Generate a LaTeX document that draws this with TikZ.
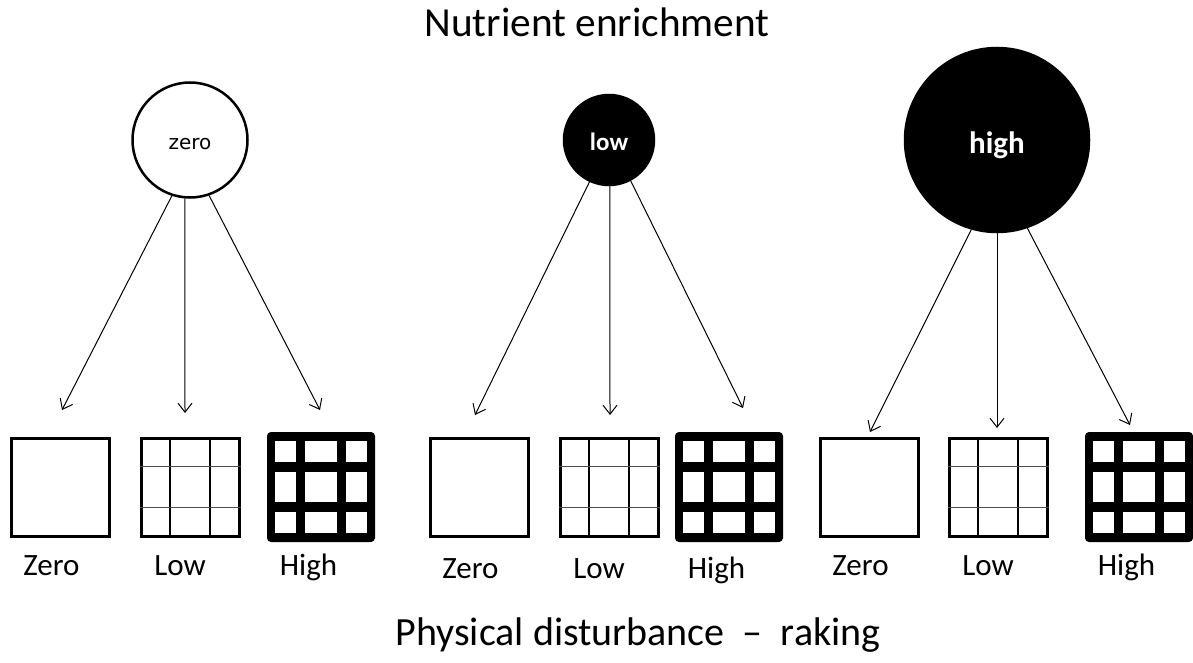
\documentclass[tikz,border=0pt]{standalone}
\usepackage{fontspec}
\setmainfont{Carlito}
\newfontfamily\dejavu{DejaVu Sans}
\usetikzlibrary{arrows.meta}

\begin{document}
\begin{tikzpicture}[x=1pt, y=-1pt,
    dose/.style={circle, draw, line width=2.5pt, inner sep=0pt},
    plot/.style={draw, line width=3pt, minimum size=98pt, inner sep=0pt},
    rake/.style={-{Straight Barb[length=9pt, width=14pt]}, line width=1pt},
    tag/.style={anchor=base, font=\fontsize{31}{31}\selectfont}]
  \useasboundingbox (0,0) rectangle (1193,663);

  \node[anchor=base, font=\fontsize{41.3}{41.3}\selectfont] (title) at (597,37) {Nutrient enrichment};
  \node[anchor=base, font=\fontsize{40}{40}\selectfont] (axis) at (638,645) {Physical disturbance \ -- \ raking};

  % nutrient levels
  \node[dose, fill=white, minimum size=115pt, font=\dejavu\fontsize{20}{20}\selectfont] (n1) at (190,140) {\raisebox{-4pt}[\height][\depth]{zero}};
  \node[dose, fill=black, minimum size=90pt, text=white, font=\bfseries\fontsize{25}{25}\selectfont] (n2) at (609,140) {\raisebox{-2pt}[\height][\depth]{low}};
  \node[dose, fill=black, minimum size=184pt, text=white, font=\bfseries\fontsize{31}{31}\selectfont] (n3) at (997,140) {\raisebox{-5pt}[\height][\depth]{high}};

  % raking plots
  \foreach \i/\xz/\xl/\xh/\yt in {1/60/190/321/575, 2/479/609/729/578, 3/869/998/1139/575} {
    \node[plot] (z\i) at (\xz,487) {};
    \node[plot] (l\i) at (\xl,487) {};
    \node[fill=black, rounded corners=4pt, minimum width=108pt, minimum height=110pt, inner sep=0pt] (h\i) at (\xh,487) {};
    \foreach \dx in {-20,20}
      \draw[line width=1.5pt] ([xshift=\dx pt]l\i.north) -- ([xshift=\dx pt]l\i.south);
    \foreach \dy in {-20,21}
      \draw[line width=1pt, black!70] ([yshift=\dy pt]l\i.west) -- ([yshift=\dy pt]l\i.east);
    \foreach \ca/\cb in {-46/-25,-16/16,25/46}
      \foreach \ra/\rb in {-46/-25,-15/15,25/46}
        \fill[white] ([shift={(\ca,\ra)}]h\i.center) rectangle ([shift={(\cb,\rb)}]h\i.center);
    \node[tag] (zt\i) at (\xz-8.5,\yt) {Zero};
    \node[tag] (lt\i) at (\xl-10,\yt) {Low};
    \node[tag] (ht\i) at (\xh-12.5,\yt) {High};
  }

  % arrow ends
  \coordinate (a1) at (62,410);
  \coordinate (b1) at (185,413);
  \coordinate (c1) at (320,410);
  \coordinate (a2) at (475,415);
  \coordinate (b2) at (610,415);
  \coordinate (c2) at (743,408);
  \coordinate (a3) at (870,432);
  \coordinate (b3) at (997,428);
  \coordinate (c3) at (1130,425);

  \draw[rake] (n1.252) -- (a1);
  \draw[rake] (n1.265) -- (b1);
  \draw[rake] (n1.289) -- (c1);
  \draw[rake] (n2.245) -- (a2);
  \draw[rake] (n2.271) -- (b2);
  \draw[rake] (n2.298) -- (c2);
  \draw[rake] (n3.254) -- (a3);
  \draw[rake] (n3.270) -- (b3);
  \draw[rake] (n3.289) -- (c3);
\end{tikzpicture}
\end{document}
